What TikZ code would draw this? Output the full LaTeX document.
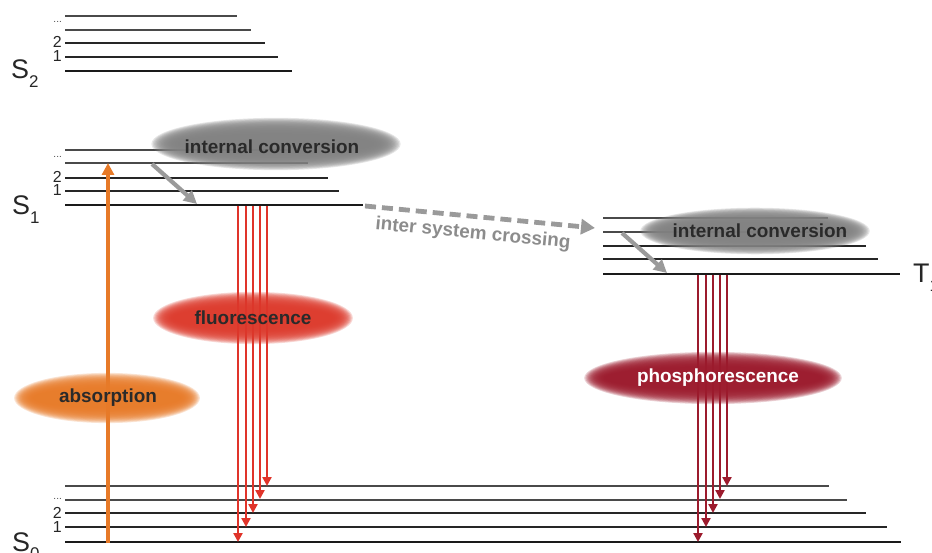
\documentclass[tikz,border=0pt]{standalone}
\usepackage{fontspec}
\setmainfont{Liberation Sans}
\usetikzlibrary{arrows.meta}
\definecolor{lvldark}{HTML}{1A1A1A}
\definecolor{lvlmid}{HTML}{262626}
\definecolor{lvlthin}{HTML}{4A4A4A}
\definecolor{icgray}{HTML}{828282}
\definecolor{arrgray}{HTML}{9A9A9A}
\definecolor{fluored}{HTML}{DC3A2C}
\definecolor{fluoarr}{HTML}{E0342A}
\definecolor{absorb}{HTML}{E77A28}
\definecolor{phosred}{HTML}{9B1A2C}
\definecolor{phosarr}{HTML}{9C1B2D}
\definecolor{txtdark}{HTML}{2A2A2A}
\definecolor{isctxt}{HTML}{8C8C8C}
\newcommand\glowell[8]{% x, y, core rx, core ry, blur x, blur y, colour, steps
  \foreach \k in {1,...,#8}{
    \fill[#7, fill opacity=0.2] (#1,#2) ellipse [x radius={#3+#5*(#8-\k)/#8}, y radius={#4+#6*(#8-\k)/#8}];
  }
}
\tikzset{
  lvlzero/.style={line width=2.5bp, draw=lvldark},
  lvlone/.style={line width=1.9bp, draw=lvlmid},
  lvlhi/.style={line width=1.3bp, draw=lvlthin},
  bigS/.style={anchor=base west, inner sep=0pt, font=\fontsize{27}{27}\selectfont, text=black!85},
  vnum/.style={anchor=base east, inner sep=0pt, font=\fontsize{16}{16}\selectfont, text=black!85},
  vdots/.style={anchor=base east, inner sep=0pt, font=\fontsize{10}{10}\selectfont, text=black!70},
  proclbl/.style={inner sep=0pt, font=\bfseries\fontsize{19}{19}\selectfont, text=txtdark},
  fluoarrow/.style={draw=fluoarr, line width=2.8bp, -{Triangle[length=9bp,width=9bp]}},
  phosarrow/.style={draw=phosarr, line width=2.8bp, -{Triangle[length=9bp,width=9bp]}},
  absarrow/.style={draw=absorb, line width=3.5bp, -{Triangle[length=12bp,width=12bp]}},
  icarrow/.style={draw=arrgray, line width=4.2bp, -{Triangle[length=13bp,width=13bp]}},
  iscarrow/.style={draw=arrgray, line width=4.8bp, dash pattern=on 11bp off 6bp, -{Triangle[length=14bp,width=15bp]}},
}
\begin{document}
\begin{tikzpicture}[x=1bp, y=-1bp]
\useasboundingbox (0,0) rectangle (932,553);
\clip (0,0) rectangle (932,553);
% ---------- S2 levels
\draw[lvlhi]   (65,16) -- (237,16);
\draw[lvlhi]   (65,30) -- (251,30);
\draw[lvlone]  (65,43) -- (265,43);
\draw[lvlone]  (65,57) -- (278,57);
\draw[lvlzero] (65,71) -- (292,71);
\node[vdots] (s2dots) at (62,23) {...};
\node[vnum] (s2two) at (62,48) {2};
\node[vnum] (s2one) at (62,62) {1};
\node[bigS] (s2) at (11,79) {S\raisebox{-0.3em}{\fontsize{17}{17}\selectfont 2}};
% ---------- S1 levels
\draw[lvlhi]   (65,150) -- (290,150);
\draw[lvlhi]   (65,163) -- (308,163);
\draw[lvlone]  (65,178) -- (328,178);
\draw[lvlone]  (65,191) -- (339,191);
\draw[lvlzero] (65,205) -- (363,205);
\node[vdots] (s1dots) at (62,158) {...};
\node[vnum] (s1two) at (62,183) {2};
\node[vnum] (s1one) at (62,196) {1};
\node[bigS] (s1) at (12,215) {S\raisebox{-0.3em}{\fontsize{17}{17}\selectfont 1}};
% ---------- T1 levels
\draw[lvlhi]   (603,218) -- (828,218);
\draw[lvlhi]   (603,232) -- (847,232);
\draw[lvlone]  (603,246) -- (866,246);
\draw[lvlone]  (603,259) -- (878,259);
\draw[lvlzero] (603,274) -- (900,274);
\node[bigS] (t1) at (913,283) {T\raisebox{-0.3em}{\fontsize{17}{17}\selectfont 1}};
% ---------- S0 levels
\draw[lvlhi]   (65,486) -- (829,486);
\draw[lvlhi]   (65,500) -- (847,500);
\draw[lvlone]  (65,513) -- (866,513);
\draw[lvlone]  (65,527) -- (887,527);
\draw[lvlzero] (65,542) -- (901,542);
\node[vdots] (s0dots) at (62,499) {...};
\node[vnum] (s0two) at (62,518) {2};
\node[vnum] (s0one) at (62,532) {1};
\node[bigS] (s0) at (12,551) {S\raisebox{-0.3em}{\fontsize{17}{17}\selectfont 0}};
% ---------- absorption arrow
\coordinate (absS) at (108,543);
\coordinate (absE) at (108,163);
\draw[absarrow] (absS) -- (absE);
% ---------- fluorescence arrows
\foreach \xx/\yy [count=\n] in {238/542, 246/527, 253/513, 260/499, 267/486}{
  \coordinate (fs\n) at (\xx,206);
  \coordinate (fe\n) at (\xx,\yy);
  \draw[fluoarrow] (fs\n) -- (fe\n);
}
% ---------- phosphorescence arrows
\foreach \xx/\yy [count=\n] in {698/542, 706/527, 713/513, 720/499, 727/486}{
  \coordinate (ps\n) at (\xx,275);
  \coordinate (pe\n) at (\xx,\yy);
  \draw[phosarrow] (ps\n) -- (pe\n);
}
% ---------- glowing ellipses
\glowell{276}{144}{96}{9}{30}{18}{icgray}{22}
\glowell{755}{231}{88}{8}{28}{16}{icgray}{22}
\glowell{253}{318}{80}{11}{21}{16}{fluored}{18}
\glowell{107}{398}{74}{10}{20}{16}{absorb}{18}
\glowell{713}{378}{108}{11}{22}{16}{phosred}{18}
% ---------- process labels
\node[proclbl] (ic1) at (272,147) {internal conversion};
\node[proclbl] (ic2) at (760,231) {internal conversion};
\node[proclbl] (fluo) at (253,318) {fluorescence};
\node[proclbl] (abso) at (108,398) {absorption};
\node[proclbl, text=white] (phos) at (718,378) {phosphorescence};
% ---------- internal conversion arrows
\coordinate (icAs) at (152,164);
\coordinate (icAe) at (197,204);
\draw[icarrow] (icAs) -- (icAe);
\coordinate (icBs) at (622,233);
\coordinate (icBe) at (667,273);
\draw[icarrow] (icBs) -- (icBe);
% ---------- inter system crossing
\coordinate (iscS) at (365,206);
\coordinate (iscE) at (595,228);
\draw[iscarrow] (iscS) -- (iscE);
\node[proclbl, text=isctxt, rotate=-5.5] (isc) at (473,234) {inter system crossing};
\end{tikzpicture}
\end{document}
